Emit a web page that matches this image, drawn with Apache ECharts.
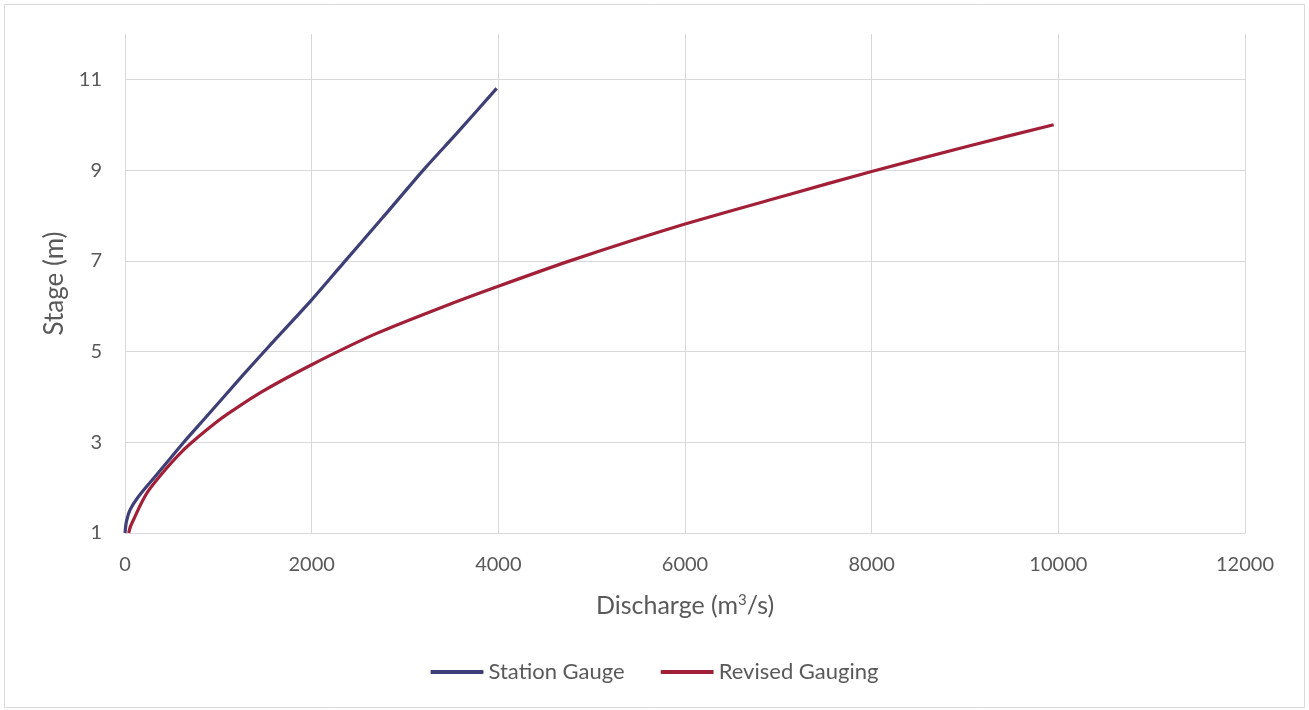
<!DOCTYPE html>
<html>
<head>
<meta charset="utf-8">
<script src="https://cdn.jsdelivr.net/npm/echarts@6/dist/echarts.min.js"></script>
<style>
html,body{margin:0;padding:0;background:#fff;}
#chart{width:1309px;height:710px;}
</style>
</head>
<body>
<div id="chart"></div>
<script>
// Data: [discharge (m3/s), stage (m)]
var seriesNames = ['Station Gauge', 'Revised Gauging'];
var stationGauge = [
  [0, 1], [15, 1.25], [54, 1.51], [143, 1.8], [321, 2.24], [500, 2.68],
  [625, 2.99], [857, 3.53], [1268, 4.49], [1625, 5.30], [2000, 6.14],
  [2339, 6.95], [2768, 7.97], [3196, 9.0], [3554, 9.81], [3982, 10.8]
];
var revisedGauging = [
  [40, 1], [60, 1.15], [107, 1.36], [170, 1.64], [250, 1.93], [429, 2.39],
  [607, 2.79], [786, 3.12], [964, 3.42], [1089, 3.61], [1446, 4.09],
  [2000, 4.71], [2696, 5.40], [3411, 5.99], [4000, 6.44], [4783, 7.01],
  [6000, 7.81], [7079, 8.44], [8000, 8.97], [9000, 9.51], [9950, 10.0]
];
var xTicks = [0, 2000, 4000, 6000, 8000, 10000, 12000];
var yTicks = [1, 3, 5, 7, 9, 11];

var FONT = 'Lato, "Open Sans", sans-serif';
var TEXT = '#595959';
var GRID = '#d9d9d9';

var chart = echarts.init(document.getElementById('chart'), null, {renderer: 'canvas'});
chart.setOption({
  backgroundColor: '#ffffff',
  animation: false,
  graphic: [{
    type: 'rect',
    shape: {x: 4.5, y: 4.5, width: 1300, height: 703},
    style: {fill: 'none', stroke: '#d9d9d9', lineWidth: 1},
    silent: true
  }],
  grid: {left: 125, right: 64, top: 34, bottom: 177, containLabel: false},
  legend: {
    data: seriesNames.map(function (n) { return {name: n, icon: 'roundRect'}; }),
    bottom: 22,
    left: 'center',
    itemWidth: 53,
    itemHeight: 4,
    itemGap: 36,
    textStyle: {fontFamily: FONT, fontSize: 22, color: TEXT}
  },
  xAxis: {
    type: 'value',
    min: xTicks[0],
    max: xTicks[xTicks.length - 1],
    interval: xTicks[1] - xTicks[0],
    name: 'Discharge (m{sup|3}/s)',
    nameLocation: 'middle',
    nameGap: 60,
    nameTextStyle: {
      fontFamily: FONT, fontSize: 25, color: TEXT,
      rich: {sup: {fontFamily: FONT, fontSize: 15, color: TEXT, verticalAlign: 'top', padding: [0, 0, 11, 0]}}
    },
    axisLine: {show: true, lineStyle: {color: GRID, width: 1}},
    axisTick: {show: false},
    axisLabel: {fontFamily: FONT, fontSize: 20, color: TEXT, margin: 22,
      formatter: function (v) { return String(v); }},
    splitLine: {show: true, lineStyle: {color: GRID, width: 1}}
  },
  yAxis: {
    type: 'value',
    min: yTicks[0],
    max: 12,
    interval: yTicks[1] - yTicks[0],
    name: 'Stage (m)',
    nameLocation: 'middle',
    nameGap: 56,
    nameTextStyle: {fontFamily: FONT, fontSize: 26, color: TEXT},
    axisLine: {show: false},
    axisTick: {show: false},
    axisLabel: {fontFamily: FONT, fontSize: 20, color: TEXT, margin: 23, showMaxLabel: false},
    splitLine: {show: true, showMaxLine: false, lineStyle: {color: GRID, width: 1}}
  },
  series: [
    {
      name: seriesNames[0],
      type: 'line',
      data: stationGauge,
      smooth: 0.25,
      symbol: 'none',
      lineStyle: {color: '#3f3f78', width: 3.2},
      itemStyle: {color: '#3f3f78'}
    },
    {
      name: seriesNames[1],
      type: 'line',
      data: revisedGauging,
      smooth: 0.25,
      symbol: 'none',
      lineStyle: {color: '#a21f38', width: 3.2},
      itemStyle: {color: '#a21f38'}
    }
  ]
});
</script>
</body>
</html>
